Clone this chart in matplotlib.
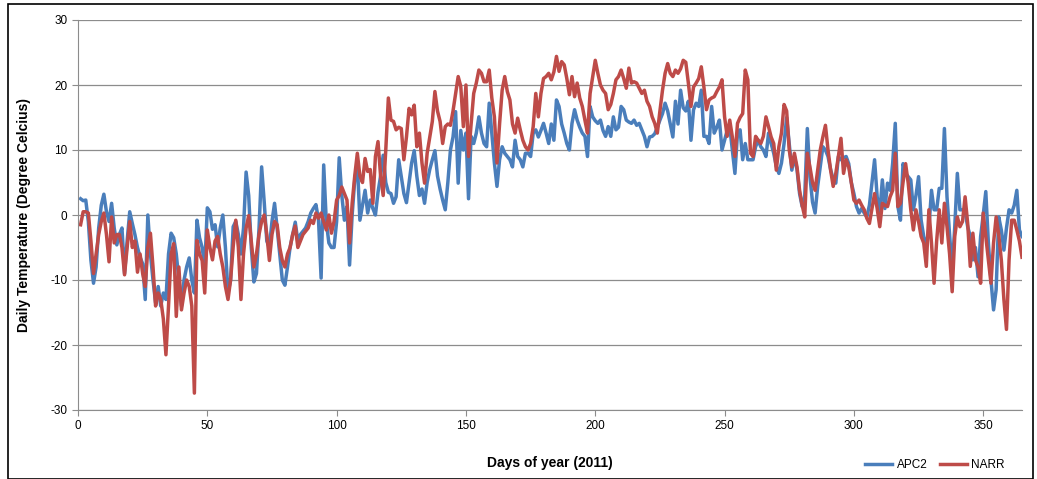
import matplotlib
matplotlib.use("Agg")
import matplotlib.pyplot as plt
from matplotlib.lines import Line2D
from matplotlib.patches import Rectangle

days = list(range(1, 366))

apc2 = [
    2.5, 2.2, 2.3, -1, -7, -10.5, -8, -2, 1.5, 3.2,
    0.5, -1, 1.8, -2, -4.6, -3, -2, -9, -4, 0.5,
    -1.3, -3, -5, -6.5, -7.5, -13, 0, -6, -10, -13.5,
    -11, -14, -12, -13, -6, -2.8, -3.5, -6, -10, -14,
    -10, -8, -6.6, -10, -12, -0.8, -3.5, -5, -8, 1.1,
    0.5, -2.2, -1.5, -4.9, -2, 0, -5, -12, -10, -1.8,
    -1, -3, -6, -2, 6.6, 3, -5, -10.3, -9, -2,
    7.4, 2, -4, -5, -1, 1.8, -2, -6, -10, -10.8,
    -8, -5, -3, -1.1, -4, -3, -2.5, -2, -1, 0.3,
    1, 1.6, -0.8, -9.7, 7.7, -1, -4.3, -5, -5, -1,
    8.8, 3, -0.8, 1.3, -7.7, 0, 5.4, 8, -0.8, 1.5,
    3.8, 0.3, 2.3, 1, 0, 3.5, 6, 9.2, 5, 3.5,
    3.3, 1.8, 2.8, 8.5, 5.9, 3.3, 1.9, 5, 8, 9.9,
    6, 3, 4, 1.8, 5, 7, 8.5, 9.9, 6, 4,
    2.3, 0.8, 5, 10, 12, 15.9, 4.9, 13, 10, 12.6,
    2.5, 12.1, 11, 12.6, 15.1, 12.6, 11, 10.5, 17.2, 12.6,
    8, 4.4, 8.5, 10.5, 9.5, 9, 8.5, 7.4, 11.5, 9,
    8.5, 7.4, 9.5, 9.5, 9, 12.6, 13.1, 12, 13, 14.1,
    12.6, 11, 14, 11.5, 17.7, 16.7, 14, 12.6, 11, 10,
    14.1, 16.2, 14.6, 13.5, 12.6, 12.1, 9, 16.7, 15.1, 14.5,
    14.1, 14.6, 13, 12.1, 13.6, 12.1, 15.1, 13.1, 13.5, 16.7,
    16.2, 14.6, 14.3, 14.1, 14.6, 13.8, 14.1, 13.1, 12.1, 10.5,
    12, 12.1, 12.5, 13.5, 14.6, 15.6, 17.2, 16, 14, 12,
    17.5, 14, 19.2, 16.5, 16, 17.5, 11.5, 16.2, 17.2, 16.7,
    19.2, 12.1, 12.1, 11, 16.7, 12.6, 13.5, 14.6, 10, 11.5,
    13, 13.6, 10, 6.4, 12.6, 13.1, 8.5, 11, 8.5, 8.5,
    8.5, 10.5, 11.5, 10.5, 10, 9, 12.6, 11, 9.5, 7.5,
    6.4, 8, 11, 15, 11, 6.9, 9, 7, 3.3, 1.3,
    3, 13.3, 5.9, 2, 0.3, 4.4, 7.4, 10.5, 10, 9,
    7, 5.5, 4.9, 9, 8.5, 8.8, 9, 7.9, 5, 3.3,
    1.3, 0.3, 1, 0.3, -0.3, 1.5, 5, 8.5, 2.8, 0.3,
    5.4, 1, 4.9, 3.8, 8, 14.1, 1.3, -0.8, 7.9, 6.4,
    5.9, 5.4, 0.8, 3, 5.9, -0.8, -3.3, -4.9, -2, 3.8,
    0.8, 0.8, 4.1, 4.1, 13.3, 2.8, -3, -8.5, -1.8, 6.4,
    0.8, 0.8, 0.5, -1.8, -3.3, -6.9, -5, -9.5, -3.3, 0,
    3.6, -4.3, -10, -14.6, -11.5, -0.3, -2.3, -5.4, -2, 0.8,
    0.3, 1.5, 3.8, -2.3, -3.3,
]

narr = [
    -1.5, 0.5, 0.5, 0.3, -4, -9, -6, -3, -1, 0.3,
    -3, -7.2, -0.3, -4.3, -3, -3, -5, -9.2, -5, -1,
    -5, -4, -8.8, -6, -9, -11, -5, -2.8, -8, -14,
    -12, -13, -16, -21.5, -14, -6, -4.4, -15.6, -8, -14.6,
    -12, -10, -11, -14, -27.4, -3.9, -6, -7, -12, -2.3,
    -5, -6.9, -4, -3.3, -6, -8, -11, -13, -10, -4.9,
    -0.8, -5, -13, -6, -2, -0.1, -4, -8, -6, -3,
    -1, 0, -3, -7, -3, -1, -1.5, -5, -7, -8,
    -6, -5, -3, -1.7, -5, -4, -3, -2.5, -2, -0.8,
    -1.3, 0.3, -0.5, 0.3, -1, -2.3, 0, -2.8, -1, 2.3,
    3, 4.3, 3.3, 2.3, -4.3, 1.8, 6, 9.5, 6, 5,
    8.7, 6.7, 7, 1.8, 9, 11.3, 6, 3, 10, 18,
    14.6, 14.4, 13.1, 13.5, 13.3, 8.5, 12, 16.4, 15.4, 16.9,
    10.5, 12.6, 8, 4.9, 9.5, 12, 14.4, 19, 16, 14.4,
    11, 13.6, 14, 13.8, 16, 18.7, 21.3, 19.8, 13.6, 20,
    9, 14, 18.7, 20.3, 22.3, 21.8, 20.5, 20.5, 22.3, 18,
    15.1, 8, 14, 19.2, 21.3, 19, 17.7, 14, 12.6, 14.9,
    13.1, 11.5, 10.5, 10, 11, 13.6, 18.7, 15.1, 18.7, 21,
    21.3, 21.8, 20.8, 22, 24.4, 22.1, 23.6, 23.1, 21, 18.5,
    21.3, 18.2, 20.3, 18, 16.7, 14.6, 12.6, 18.7, 21.3, 23.8,
    21.8, 20, 19.2, 18.7, 16.2, 17, 18.7, 20.8, 21.3, 22.3,
    21, 19.5, 22.6, 20.3, 20.5, 20.3, 19.5, 18.7, 19.2, 17.5,
    16.7, 15.1, 14.1, 12.6, 16, 19.2, 21.8, 23.3, 21.8, 21.3,
    22.3, 21.8, 22.5, 23.8, 23.5, 20.3, 16.7, 19.7, 20.3, 21,
    22.8, 19.7, 16.2, 17.7, 18, 18.2, 19, 19.7, 20.8, 15.1,
    12.1, 14.6, 12, 9, 14.1, 15, 15.6, 22.3, 20.8, 9.5,
    9, 12.1, 11.5, 11, 12.1, 15.1, 13.6, 12, 11, 6.9,
    10.5, 12.6, 17, 16, 10, 7.4, 9.5, 7.4, 3.8, 1.5,
    -0.3, 9.5, 7.4, 5, 3.8, 6.9, 10, 12, 13.8, 10,
    6.9, 4.4, 6.4, 9, 11.8, 6.4, 8.5, 7.4, 5, 2.3,
    1.8, 2.3, 1.5, 0.8, -0.5, -1.3, 1, 3.3, 1, -1.8,
    1.8, 1.5, 1.3, 2.8, 3.8, 9.5, 1.3, 1.8, 5, 7.9,
    4.9, 0.8, -2.3, 0.8, -1, -3.3, -4.3, -7.9, 0.8, -4.3,
    -10.5, -4, 0.8, -4.3, 1.8, -1.8, -6, -11.8, -3.3, -0.3,
    -1.8, -1, 2.8, -1.3, -7.9, -2.8, -6.9, -8, -10.5, 0.3,
    -3.3, -7, -10.5, -4.3, -0.3, -3, -6.9, -13, -17.6, -6.9,
    -0.8, -0.8, -2.3, -4, -6.5,
]

series_names = ["APC2", "NARR"]
colors = ["#4A7EBB", "#BE4B48"]
x_ticks = [0, 50, 100, 150, 200, 250, 300, 350]
y_ticks = [-30, -20, -10, 0, 10, 20, 30]

plt.rcParams['font.family'] = ['Liberation Sans', 'DejaVu Sans']
plt.rcParams['axes.unicode_minus'] = False

fig = plt.figure(figsize=(10.37, 4.79), dpi=100)
ax = fig.add_axes([78/1037, 1 - 410/479, (1022 - 78)/1037, (410 - 20)/479])

for vals, c, name in zip([apc2, narr], colors, series_names):
    ax.plot(days, vals, color=c, lw=2.5, label=name, solid_joinstyle='round')

ax.set_xlim(0, 365)
ax.set_ylim(-30, 30)
ax.set_xticks(x_ticks)
ax.set_yticks(y_ticks)
ax.yaxis.grid(True, color="#8c8c8c", lw=0.9)
ax.set_axisbelow(True)
for s in ["top", "right"]:
    ax.spines[s].set_visible(False)
for s in ["left", "bottom"]:
    ax.spines[s].set_color("#8c8c8c")
ax.tick_params(axis='both', labelsize=8.5, colors="#8c8c8c", labelcolor="black", length=4)

ax.set_ylabel("Daily Temperature (Degree Celcius)", fontsize=10, fontweight='bold', labelpad=14)
ax.set_xlabel("Days of year (2011)", fontsize=10, fontweight='bold', labelpad=17)

handles = [Line2D([0], [0], color=c, lw=2.5) for c in colors]
fig.legend(handles, series_names, loc='center', bbox_to_anchor=(935/1037, 1 - 465/479),
           ncol=2, frameon=False, fontsize=8.5, handlelength=2.3, columnspacing=1.0,
           handletextpad=0.4)

fig.add_artist(Rectangle((8/1037, 0), (1033 - 8)/1037, 1 - 4/479, transform=fig.transFigure,
                         fill=False, edgecolor="black", lw=1.2))

fig.savefig("out.png", dpi=100)
